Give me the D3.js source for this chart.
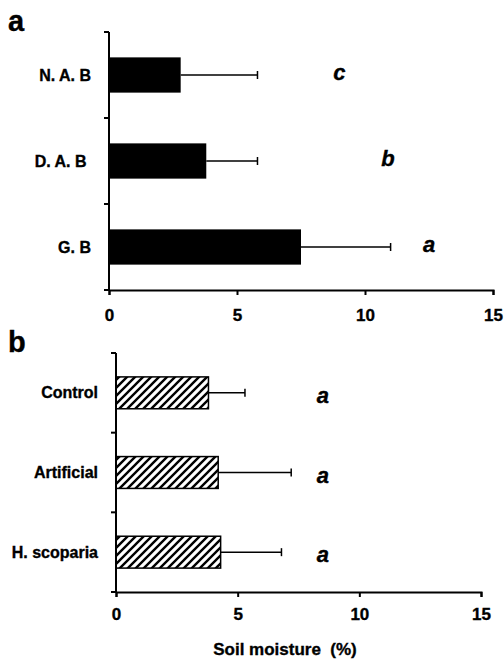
<!DOCTYPE html>
<html><head><meta charset="utf-8">
<script src="https://cdn.jsdelivr.net/npm/d3@7"></script>
<style>
body{margin:0;background:#fff}
text{font-family:"Liberation Sans",Arial,sans-serif;font-weight:bold;fill:#000;stroke:#000;stroke-width:0.35px}
</style>
</head><body><svg id="c" width="504" height="659"></svg>
<script>
// ---- data ----
const catsA = ["N. A. B", "D. A. B ", "G. B"];
const meansA = [2.8, 3.8, 7.5];
const errA = [3.0, 2.0, 3.5];
const lettersA = ["c", "b", "a"];
const letterXA = [9.0, 10.9, 12.5];

const catsB = ["Control", "Artificial", "H. scoparia"];
const meansB = [3.8, 4.2, 4.3];
const errB = [1.5, 3.0, 2.5];
const lettersB = ["a", "a", "a"];
const letterXB = [8.5, 8.5, 8.5];

const xTicks = [0, 5, 10, 15];
const xTitle = "Soil moisture\u00a0\u00a0(%)";

const svg = d3.select("#c");

// hatch pattern
const defs = svg.append("defs");
const pat = defs.append("pattern").attr("id", "hatch")
  .attr("patternUnits", "userSpaceOnUse").attr("width", 8).attr("height", 8);
pat.append("rect").attr("width", 8).attr("height", 8).attr("fill", "#fff");
pat.append("path").attr("d", "M-2,2 L2,-2 M0,8 L8,0 M6,10 L10,6")
  .attr("stroke", "#000").attr("stroke-width", 2.4);

function panel(o) {
  const g = svg.append("g");
  const x = d3.scaleLinear().domain([0, 15]).range([o.x0, o.x1]);
  const y = d3.scaleBand().domain(o.cats).range([o.y0, o.y1]).padding(0);
  const bh = y.bandwidth() * o.barFrac;
  const rows = o.cats.map((c, i) => ({c, m: o.means[i], e: o.errs[i], l: o.letters[i], lx: o.letterX[i]}));

  // error bars
  const eb = g.append("g").attr("stroke", "#000").attr("stroke-width", 1.5);
  eb.selectAll("line.h").data(rows).join("line")
    .attr("x1", d => x(d.m)).attr("x2", d => x(d.m + d.e))
    .attr("y1", d => y(d.c) + y.bandwidth() / 2).attr("y2", d => y(d.c) + y.bandwidth() / 2);
  eb.selectAll("line.v").data(rows).join("line")
    .attr("x1", d => x(d.m + d.e)).attr("x2", d => x(d.m + d.e))
    .attr("y1", d => y(d.c) + y.bandwidth() / 2 - 4).attr("y2", d => y(d.c) + y.bandwidth() / 2 + 4);

  // bars
  g.selectAll("rect.bar").data(rows).join("rect")
    .attr("x", x(0)).attr("width", d => x(d.m) - x(0))
    .attr("y", d => y(d.c) + (y.bandwidth() - bh) / 2).attr("height", bh)
    .attr("fill", o.fill).attr("stroke", "#000").attr("stroke-width", o.hatched ? 1.5 : 0);

  // x axis
  const xa = g.append("g").attr("transform", `translate(0,${o.y1})`)
    .call(d3.axisBottom(x).tickValues(xTicks).tickSize(5).tickSizeOuter(5).tickPadding(o.tickPad));
  xa.selectAll("path,line").attr("stroke", "#000").attr("stroke-width", 2);
  xa.selectAll("text").attr("font-size", 17).attr("font-family", "Liberation Sans, Arial, sans-serif").attr("font-weight", "bold");

  // y axis line + boundary ticks
  const bounds = d3.range(o.cats.length + 1).map(i => o.y0 + i * y.step());
  g.append("line").attr("x1", x(0)).attr("x2", x(0)).attr("y1", o.y0).attr("y2", o.y1)
    .attr("stroke", "#000").attr("stroke-width", 2);
  g.selectAll("line.yt").data(bounds).join("line")
    .attr("x1", x(0) - 5).attr("x2", x(0)).attr("y1", d => d).attr("y2", d => d)
    .attr("stroke", "#000").attr("stroke-width", 2);

  // category labels
  g.selectAll("text.cat").data(rows).join("text")
    .attr("x", x(0) - 18).attr("y", d => y(d.c) + y.bandwidth() / 2).attr("dy", "0.35em")
    .attr("text-anchor", "end").attr("font-size", 16).style("white-space", "pre")
    .text(d => d.c);

  // significance letters
  g.selectAll("text.sig").data(rows).join("text")
    .attr("x", d => x(d.lx)).attr("y", d => y(d.c) + y.bandwidth() / 2 + o.letterDy)
    .attr("text-anchor", "middle").attr("font-size", 22).attr("font-style", "italic")
    .text(d => d.l);

  // panel letter
  g.append("text").attr("x", 8).attr("y", o.tagY).attr("font-size", 29).text(o.tag);
  return x;
}

panel({cats: catsA, means: meansA, errs: errA, letters: lettersA, letterX: letterXA,
  x0: 109, x1: 493, y0: 32, y1: 290, barFrac: 0.41, fill: "#000", hatched: false,
  tickPad: 14, letterDy: 5, tag: "a", tagY: 31});

panel({cats: catsB, means: meansB, errs: errB, letters: lettersB, letterX: letterXB,
  x0: 116, x1: 481, y0: 353, y1: 592, barFrac: 0.40, fill: "url(#hatch)", hatched: true,
  tickPad: 11, letterDy: 10, tag: "b", tagY: 352});

svg.append("text").attr("x", 285).attr("y", 655).attr("text-anchor", "middle")
  .attr("font-size", 17).text(xTitle);
</script>
</body></html>
